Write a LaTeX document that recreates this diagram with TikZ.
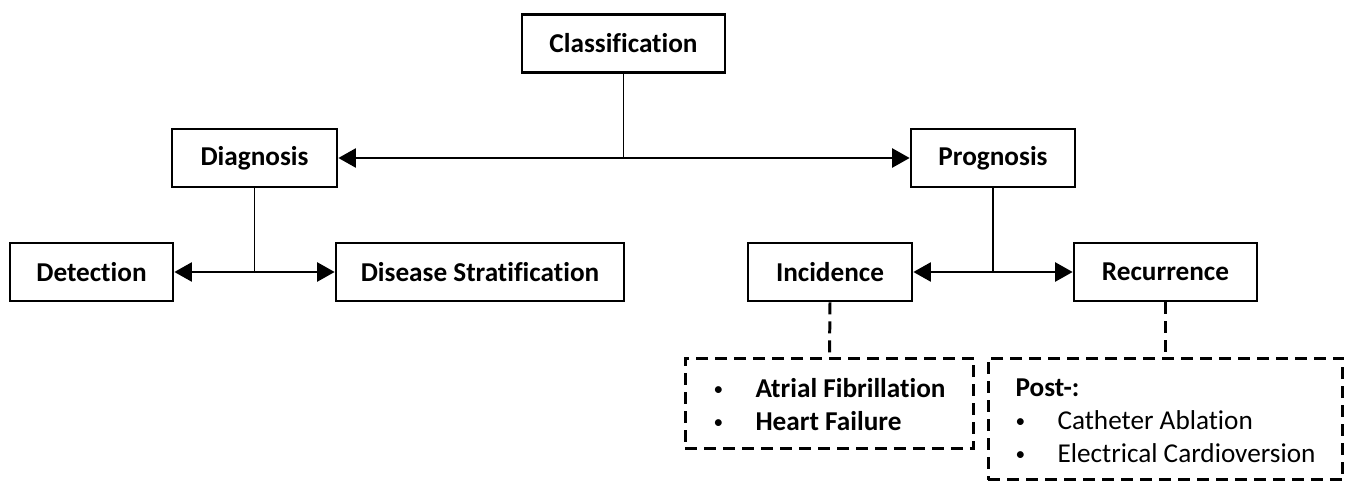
\documentclass[tikz,border=0pt]{standalone}
\usepackage{fontspec}
\setmainfont{Carlito}[Ligatures=NoCommon]
\usetikzlibrary{arrows.meta}
\tikzset{>={Triangle[length=10pt,width=11pt]}}
\newcommand{\lstdot}{\raisebox{0.15ex}{\fontsize{11}{11}\selectfont\textbullet}}

\begin{document}
\begin{tikzpicture}[x=0.02cm,y=-0.02cm,
    box/.style={draw,line width=1.6pt,minimum height=1.16cm,inner sep=0pt,
        font=\fontsize{15.5}{18}\selectfont\bfseries},
    listbox/.style={draw,line width=1.7pt,dash pattern=on 0.24cm off 0.14cm,
        inner sep=0pt,font=\fontsize{15.5}{18.8}\selectfont},
    conn/.style={line width=0.9pt},
    dashconn/.style={line width=1.7pt,dash pattern=on 0.24cm off 0.14cm}]
            % Fix the page to the reference size
            \useasboundingbox (0,0) rectangle (1350,483);

            % Draw the boxes
            \node[box,minimum width=4.06cm] (cls) at (623.5,43.5) {Classification};
            \node[box,minimum width=3.3cm] (dia) at (254.5,158) {Diagnosis};
            \node[box,minimum width=3.28cm] (prog) at (993,158) {Prognosis};
            \node[box,minimum width=3.26cm] (det) at (91.5,272) {Detection};
            \node[box,minimum width=5.76cm] (dis) at (480,272) {Disease Stratification};
            \node[box,minimum width=3.28cm] (inc) at (830,272) {Incidence};
            \node[box,minimum width=3.66cm] (rec) at (1165.5,272) {Recurrence};

            % Draw the dashed lists
            \node[listbox,minimum width=5.78cm,minimum height=1.82cm] (incl) at (829.5,403.5)
                {\raisebox{-0.07cm}[\height][\depth]{\begin{tabular}{@{}p{0.84cm}@{}l@{}}
                 \lstdot & \textbf{Atrial Fibrillation}\\
                 \lstdot & \textbf{Heart Failure}
                 \end{tabular}}};
            \node[listbox,minimum width=7.1cm,minimum height=2.44cm] (recl) at (1165.5,419)
                {\raisebox{-0.07cm}[\height][\depth]{\begin{tabular}{@{}p{0.84cm}@{}l@{}}
                 \multicolumn{2}{@{}l@{}}{\textbf{Post-:}}\\
                 \lstdot & Catheter Ablation\\
                 \lstdot & Electrical Cardioversion
                 \end{tabular}}};

            % Draw connectors
            \draw[conn] (cls.south) -- (cls.south |- dia.east);
            \draw[conn,<->] (dia.east) -- (prog.west);
            \draw[conn] (dia.south) -- (dia.south |- det.east);
            \draw[conn,<->] (det.east) -- (dis.west);
            \draw[conn] (prog.south) -- (prog.south |- inc.east);
            \draw[conn,<->] (inc.east) -- (rec.west);
            \draw[dashconn] (inc.south) -- (incl.north);
            \draw[dashconn] (rec.south) -- (recl.north);
          \end{tikzpicture}
\end{document}
